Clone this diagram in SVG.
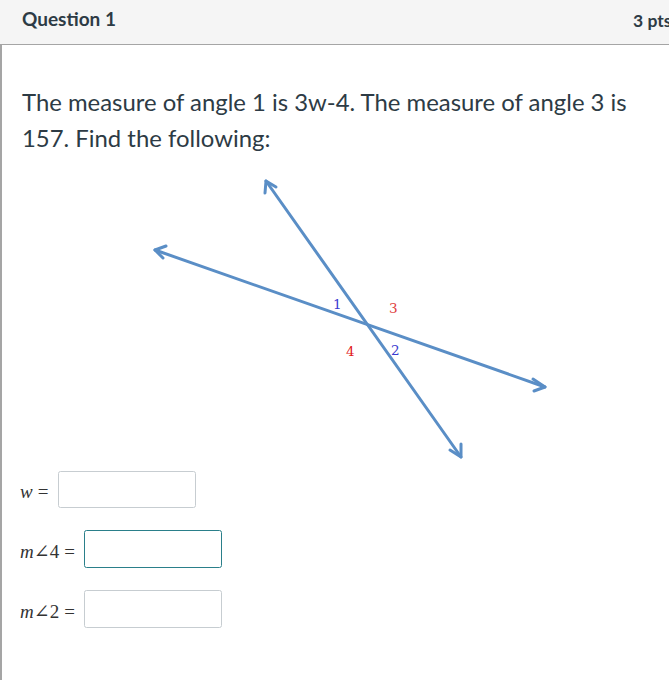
<svg xmlns="http://www.w3.org/2000/svg" width="669" height="680" viewBox="0 0 669 680">
<style>
.hdr{font-family:Lato,"Liberation Sans",sans-serif;fill:#2d3b45}
.body{font-family:Lato,"Liberation Sans",sans-serif;font-size:23.9px;fill:#2d3b45}
.ln{stroke:#5a8ec6;stroke-width:3;fill:none;stroke-linecap:round;stroke-linejoin:round}
.lbl{font-family:"DejaVu Serif","Liberation Serif",serif;font-size:13.5px}
.math{font-family:"Liberation Serif","DejaVu Serif",serif;font-size:19px;fill:#333}
.box{fill:#fff;stroke:#c7cdd1;stroke-width:1}
</style>
<rect x="0" y="0" width="669" height="680" fill="#fff"/>
<g id="header">
<rect x="0" y="0" width="669" height="44" fill="#f5f5f5"/>
<line x1="0" y1="44.5" x2="669" y2="44.5" stroke="#a5a5a5" stroke-width="1"/>
<text class="hdr" x="22" y="26" font-size="19" font-weight="bold">Question 1</text>
<text class="hdr" x="633" y="27" font-size="17.5" font-weight="bold" fill="#555">3 pts</text>
</g>
<line x1="1" y1="44" x2="1" y2="680" stroke="#a5a5a5" stroke-width="2"/>
<g id="question">
<text class="body" x="22" y="111">The measure of angle 1 is 3w-4. The measure of angle 3 is</text>
<text class="body" x="22" y="147">157. Find the following:</text>
</g>
<g id="connectors">
<line class="ln" x1="155" y1="250" x2="545" y2="387"/>
<line class="ln" x1="266" y1="181" x2="461" y2="457"/>
<path class="ln" d="M166,246 L155,250 L163,258"/>
<path class="ln" d="M533,379 L545,387 L534,391"/>
<path class="ln" d="M265,193 L266,181 L276,187"/>
<path class="ln" d="M450,450 L461,457 L461,444"/>
</g>
<g id="labels">
<text class="lbl" x="333" y="309" fill="#3a3ad0">1</text>
<text class="lbl" x="389" y="313" fill="#e04040">3</text>
<text class="lbl" x="346" y="356" fill="#e02020">4</text>
<text class="lbl" x="391" y="355" fill="#3a3ad0">2</text>
</g>
<g id="answer-w">
<text class="math" x="20" y="498"><tspan font-style="italic">w</tspan><tspan dx="5">=</tspan></text>
<rect class="box" x="58.5" y="471.5" width="137" height="36" rx="2"/>
</g>
<g id="answer-4">
<text class="math" x="20" y="558"><tspan font-style="italic">m</tspan>∠4<tspan dx="5">=</tspan></text>
<rect class="box" x="84.5" y="530.5" width="137" height="37" rx="2" style="stroke:#2a7f8a"/>
</g>
<g id="answer-2">
<text class="math" x="20" y="618"><tspan font-style="italic">m</tspan>∠2<tspan dx="5">=</tspan></text>
<rect class="box" x="84.5" y="590.5" width="137" height="37" rx="2"/>
</g>
</svg>
